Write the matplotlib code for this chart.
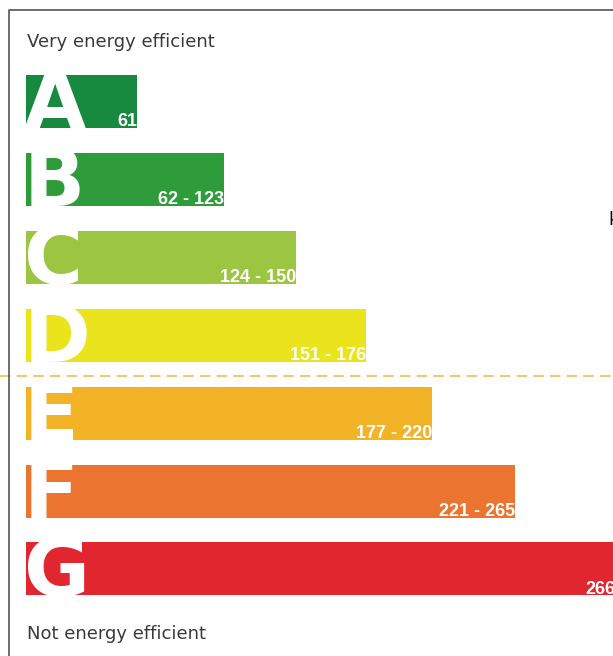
import matplotlib.pyplot as plt

# energy label data
grades = ["A", "B", "C", "D", "E", "F", "G"]
ranges = ["61", "62 - 123", "124 - 150", "151 - 176", "177 - 220", "221 - 265", "266"]
bar_len = [111, 198, 270, 340, 406, 489, 589]
colors = ["#188a3f", "#2f9c3c", "#9cc642", "#eae41c", "#f2b327", "#ec7431", "#e2262f"]

fig = plt.figure(figsize=(6.13, 6.56), dpi=100)
ax = fig.add_axes([0, 0, 1, 1])
ax.set_xlim(0, 613)
ax.set_ylim(7.117, -1.303)
ax.axis("off")

y = list(range(len(grades)))
ax.barh(y, bar_len, left=26, height=0.68, color=colors, zorder=2)

for i, g in enumerate(grades):
    ax.text(24, i + 0.06, g, color="white", fontsize=58, fontweight="bold",
            ha="left", va="center", zorder=3)
    ax.text(26 + bar_len[i], i + 0.32, ranges[i], color="white", fontsize=13,
            fontweight="bold", family=["Liberation Sans Narrow", "Liberation Sans"],
            ha="right", va="baseline", zorder=3)

ax.text(27, -0.77, "Very energy efficient", color="#3a3a3a", fontsize=13,
        ha="left", va="center")
ax.text(27, 6.83, "Not energy efficient", color="#3a3a3a", fontsize=13,
        ha="left", va="center")
ax.text(608, 1.52, "k", color="black", fontsize=13, ha="left", va="center")

# threshold line between D and E
ax.axhline(3.52, color="#f0c870", lw=1.5, ls=(0, (5, 3)), zorder=1)

# frame of the cropped picture
ax.plot([9, 9, 613], [7.2, -1.17, -1.17], color="#555555", lw=1.2, clip_on=False)

fig.savefig("out.png", dpi=100)
